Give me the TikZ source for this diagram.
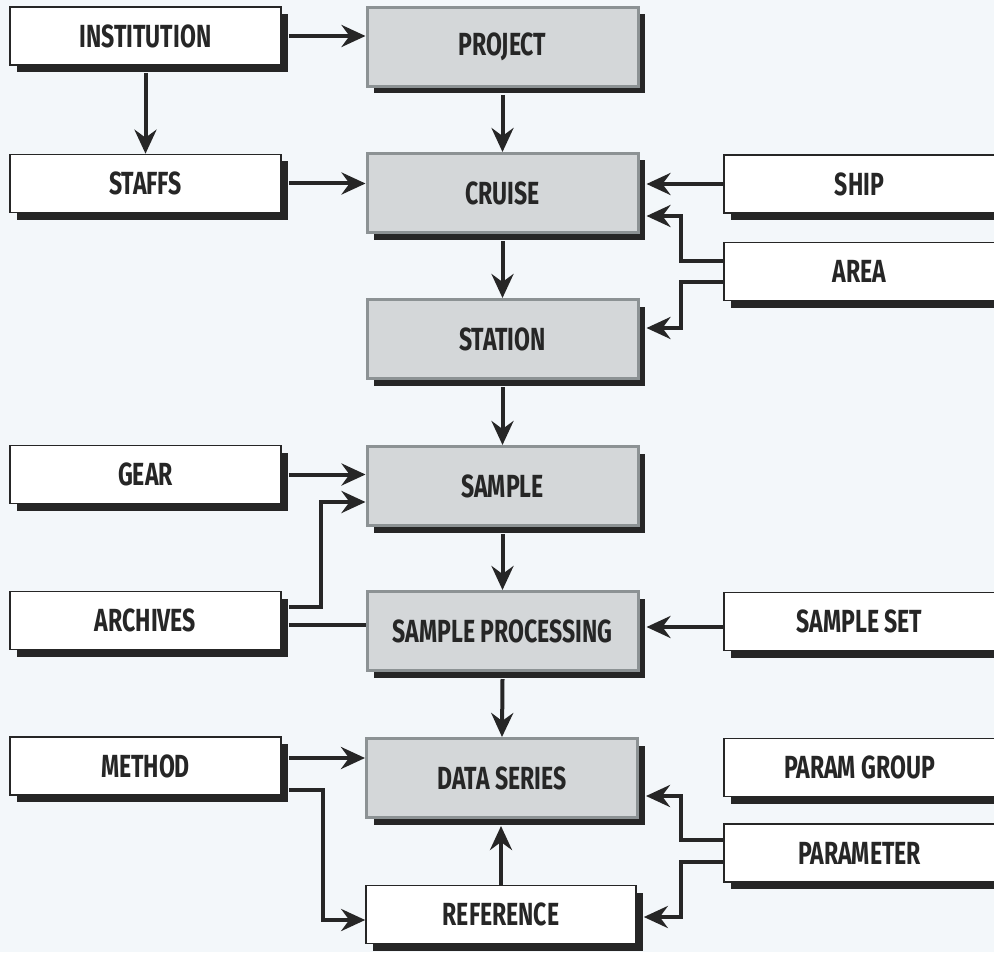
\documentclass[tikz,border=0pt]{standalone}
\usepackage{fontspec}
\newfontfamily\boxfont{Fira Sans}[FakeStretch=0.72]
\usetikzlibrary{shadows,arrows.meta}

\definecolor{bgc}{HTML}{F3F7FA}
\definecolor{boxgray}{HTML}{D4D7D9}
\definecolor{rimgray}{HTML}{8C9294}
\definecolor{inkc}{HTML}{262626}

\tikzset{
    entity/.style={draw=inkc, line width=0.8pt, fill=white, text=inkc,
        minimum width=135.5pt, minimum height=29pt,
        font=\boxfont\bfseries\fontsize{16}{18}\selectfont,
        drop shadow={shadow xshift=3.5pt, shadow yshift=-3.5pt, opacity=1, fill=inkc}},
    core/.style={entity, draw=rimgray, line width=1.5pt, fill=boxgray, minimum height=39.5pt},
    conn/.style={draw=inkc, line width=2pt, -{Stealth[length=12pt,width=11pt,inset=4pt]}},
    link/.style={draw=inkc, line width=2pt},
}

\begin{document}
\begin{tikzpicture}[x=0.5pt, y=-0.5pt]

            % Background
            \fill[bgc] (0,0) rectangle (994,952);
            \useasboundingbox (0,0) rectangle (994,952);

            % Left column
            \node[entity] (inst) at (145.5,36) {INSTITUTION};
            \node[entity] (staffs) at (145.5,183.5) {STAFFS};
            \node[entity] (gear) at (145.5,474.5) {GEAR};
            \node[entity] (archives) at (145.5,620.5) {ARCHIVES};
            \node[entity] (method) at (145.5,766) {METHOD};

            % Main chain
            \node[core] (project) at (502.5,47) {PROJECT};
            \node[core] (cruise) at (502.5,193) {CRUISE};
            \node[core] (station) at (502.5,339) {STATION};
            \node[core] (sample) at (502.5,486) {SAMPLE};
            \node[core] (sproc) at (502.5,631) {SAMPLE PROCESSING};
            \node[core] (dseries) at (502,778) {DATA SERIES};
            \node[entity, minimum width=135pt] (reference) at (501,914.5) {REFERENCE};

            % Right column
            \node[entity] (ship) at (859.5,184) {SHIP};
            \node[entity] (area) at (859.5,271.5) {AREA};
            \node[entity] (sset) at (859.5,621.5) {SAMPLE SET};
            \node[entity] (pgroup) at (859.5,767.5) {PARAM GROUP};
            \node[entity] (param) at (859.5,853) {PARAMETER};

            % Down the chain
            \foreach \a/\b in {project/cruise, cruise/station, station/sample, sample/sproc, sproc/dseries} {
                \draw[conn] ([yshift=-3.5pt]\a.south) -- (\b.north);
            }

            % From the left
            \draw[conn] ([xshift=3.5pt]inst.east) -- (project.west |- inst.east);
            \draw[conn] ([yshift=-3.5pt]inst.south) -- (staffs.north);
            \draw[conn] ([xshift=3.5pt]staffs.east) -- (cruise.west |- staffs.east);
            \draw[conn] ([xshift=3.5pt]gear.east) -- (sample.west |- gear.east);
            \draw[conn] ([xshift=3.5pt,yshift=6.75pt]archives.east) -- ++(16pt,0) |- ([yshift=-8pt]sample.west);
            \draw[link] ([xshift=3.5pt,yshift=-2.25pt]archives.east) -- ([yshift=-2.25pt]sproc.west |- archives.east);
            \draw[conn] ([xshift=3.5pt,yshift=4pt]method.east) -- ([yshift=4pt]dseries.west |- method.east);
            \draw[conn] ([xshift=3.5pt,yshift=-12pt]method.east) -- ++(17pt,0) |- ([yshift=-2.75pt]reference.west);
            \draw[conn] (reference.north) -- ([yshift=-3.5pt]reference.north |- dseries.south);

            % From the right
            \draw[conn] (ship.west) -- ([xshift=3.5pt]cruise.east |- ship.west);
            \draw[conn] ([yshift=5.25pt]area.west) -- ++(-21pt,0) |- ([xshift=3.5pt,yshift=-11.5pt]cruise.east);
            \draw[conn] ([yshift=-5.25pt]area.west) -- ++(-21pt,0) |- ([xshift=3.5pt,yshift=5.5pt]station.east);
            \draw[conn] ([yshift=-2.75pt]sset.west) -- ([xshift=3.5pt,yshift=-2.75pt]sproc.east |- sset.west);
            \draw[conn] ([yshift=6.5pt]param.west) -- ++(-21pt,0) |- ([xshift=3.5pt,yshift=-9pt]dseries.east);
            \draw[conn] ([yshift=-4.5pt]param.west) -- ++(-21pt,0) |- ([xshift=3.5pt,yshift=-1.25pt]reference.east);

\end{tikzpicture}
\end{document}
